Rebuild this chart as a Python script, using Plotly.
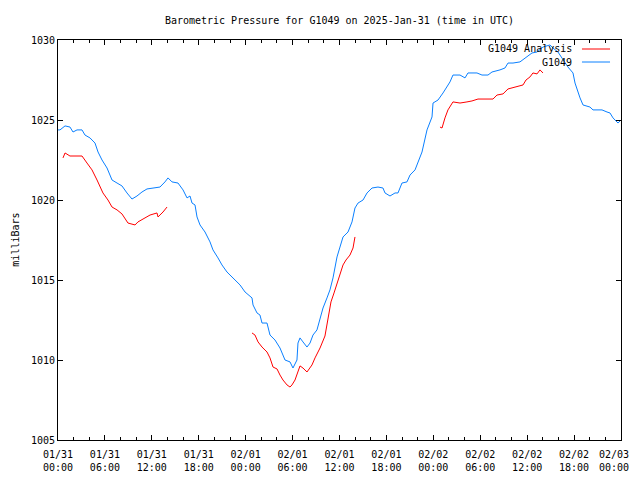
import plotly.graph_objects as go

# G1049 observed (hours since 2025-01-31 00:00 UTC, millibars)
obs_hours = [0.0, 0.26, 0.90, 1.53, 1.92, 2.43, 3.07, 3.45, 4.09, 4.73, 5.12, 5.63, 6.27, 6.91,
             7.55, 8.18, 8.82, 9.46, 10.10, 10.74, 11.38, 12.15, 13.04, 13.68, 14.07, 14.58,
             15.35, 15.99, 16.50, 16.88, 17.14, 17.52, 17.78, 18.16, 18.80, 19.44, 19.82, 20.46,
             20.97, 21.61, 22.25, 22.89, 23.28, 23.92, 24.81, 24.94, 25.45, 25.83, 26.09, 26.73,
             27.11, 27.75, 28.39, 29.03, 29.67, 30.05, 30.56, 30.69, 30.95, 31.33, 31.84, 32.23,
             32.61, 33.12, 33.51, 33.89, 34.40, 34.78, 35.17, 35.68, 36.06, 36.45, 37.09, 37.60,
             37.98, 38.37, 39.01, 39.52, 40.16, 40.92, 41.56, 41.82, 42.46, 43.10, 43.48, 43.99,
             44.63, 45.02, 45.66, 46.04, 46.55, 47.19, 47.83, 47.96, 48.60, 49.24, 50.13, 50.51,
             51.41, 52.05, 52.43, 53.58, 54.22, 54.99, 55.50, 56.52, 57.16, 57.55, 58.19, 59.08,
             59.72, 60.62, 61.26, 62.02, 62.92, 63.30, 63.94, 64.58, 65.22, 65.86, 66.12, 66.76,
             67.14, 68.03, 68.42, 69.06, 69.57, 70.21, 70.59, 70.98, 71.62, 72.0]
obs_mbar = [1024.38, 1024.38, 1024.63, 1024.56, 1024.25, 1024.38, 1024.38, 1024.06, 1023.88,
            1023.56, 1023.0, 1022.5, 1022.0, 1021.25, 1021.06, 1020.88, 1020.44, 1020.06,
            1020.25, 1020.5, 1020.69, 1020.75, 1020.81, 1021.13, 1021.38, 1021.13, 1021.06,
            1020.63, 1020.13, 1020.25, 1019.81, 1019.69, 1018.94, 1018.44, 1018.0, 1017.38,
            1016.88, 1016.38, 1015.94, 1015.5, 1015.19, 1014.94, 1014.69, 1014.25, 1013.88,
            1013.44, 1012.94, 1012.81, 1012.31, 1012.31, 1011.56, 1011.25, 1010.75, 1010.0,
            1009.88, 1009.5, 1010.0, 1011.06, 1011.38, 1011.13, 1010.81, 1011.06, 1011.56,
            1011.88, 1012.5, 1013.25, 1013.88, 1014.38, 1015.13, 1016.44, 1017.06, 1017.69,
            1018.0, 1018.63, 1019.5, 1019.81, 1020.0, 1020.44, 1020.75, 1020.81, 1020.75,
            1020.44, 1020.25, 1020.44, 1020.44, 1021.06, 1021.13, 1021.56, 1021.88, 1022.31,
            1023.0, 1024.38, 1025.19, 1026.06, 1026.25, 1026.69, 1027.38, 1027.81, 1027.81,
            1027.63, 1027.94, 1027.94, 1027.81, 1027.81, 1028.0, 1028.13, 1028.25, 1028.56,
            1028.56, 1028.63, 1028.88, 1029.19, 1029.25, 1029.56, 1029.69, 1029.5, 1029.25,
            1028.75, 1028.31, 1027.94, 1027.31, 1026.38, 1025.94, 1025.81, 1025.63, 1025.63,
            1025.63, 1025.5, 1025.44, 1025.13, 1024.81, 1025.0]

# G1049 Analysis (three segments, separated by gaps = None)
ana_hours = [0.64, 0.90, 1.53, 3.07, 3.71, 4.35, 4.99, 5.37, 5.75, 6.39, 6.91, 7.55, 8.18, 8.95,
             9.85, 10.23, 10.87, 11.77, 12.66, 12.79, 13.43, 13.94,
             None,
             24.81, 25.19, 25.58, 26.09, 26.73, 27.11, 27.50, 28.01, 28.39, 28.77, 29.29, 29.67,
             29.92, 30.31, 30.95, 31.33, 31.84, 32.48, 32.87, 33.51, 34.14, 34.53, 34.91, 35.30,
             35.68, 36.06, 36.45, 36.83, 37.34, 37.73, 37.98,
             None,
             48.85, 49.11, 49.49, 49.87, 50.51, 51.41, 52.30, 52.94, 53.71, 54.35, 55.63, 56.14,
             56.91, 57.55, 58.44, 59.47, 59.85, 60.36, 60.74, 61.26, 61.64, 62.02]
ana_mbar = [1022.63, 1022.94, 1022.75, 1022.75, 1022.31, 1021.88, 1021.25, 1020.81, 1020.44,
            1020.0, 1019.56, 1019.38, 1019.13, 1018.56, 1018.44, 1018.63, 1018.81, 1019.06,
            1019.19, 1018.94, 1019.25, 1019.56,
            None,
            1011.69, 1011.56, 1011.13, 1010.81, 1010.5, 1010.13, 1009.56, 1009.44, 1009.06,
            1008.75, 1008.44, 1008.31, 1008.44, 1008.75, 1009.63, 1009.5, 1009.25, 1009.69,
            1010.13, 1010.75, 1011.5, 1012.69, 1013.63, 1014.19, 1014.81, 1015.31, 1015.94,
            1016.25, 1016.56, 1017.0, 1017.69,
            None,
            1024.56, 1024.5, 1025.13, 1025.63, 1026.13, 1026.06, 1026.13, 1026.19, 1026.31,
            1026.31, 1026.31, 1026.56, 1026.63, 1026.94, 1027.06, 1027.19, 1027.5, 1027.69,
            1027.94, 1027.88, 1028.13, 1027.94]

tick_hours = [0, 6, 12, 18, 24, 30, 36, 42, 48, 54, 60, 66, 72]
tick_labels = ["01/31<br>00:00", "01/31<br>06:00", "01/31<br>12:00", "01/31<br>18:00",
               "02/01<br>00:00", "02/01<br>06:00", "02/01<br>12:00", "02/01<br>18:00",
               "02/02<br>00:00", "02/02<br>06:00", "02/02<br>12:00", "02/02<br>18:00",
               "02/03<br>00:00"]
y_ticks = [1005, 1010, 1015, 1020, 1025, 1030]

RED = "#ff0000"
BLUE = "#0a80ff"
FONT = "DejaVu Sans Mono"

fig = go.Figure()
fig.add_trace(go.Scatter(x=ana_hours, y=ana_mbar, mode="lines", name="G1049 Analysis",
                         line=dict(color=RED, width=1), connectgaps=False))
fig.add_trace(go.Scatter(x=obs_hours, y=obs_mbar, mode="lines", name="G1049",
                         line=dict(color=BLUE, width=1)))

axis_common = dict(showline=True, linecolor="black", linewidth=1, mirror="ticks",
                   ticks="inside", ticklen=5, tickcolor="black", showgrid=False,
                   zeroline=False, tickfont=dict(family=FONT, size=10, color="black"))

# the last tick label is drawn as an annotation nudged left so the window edge does not cut it
fig.update_xaxes(range=[0, 72], tickmode="array", tickvals=tick_hours,
                 ticktext=tick_labels[:-1] + [""], ticklabelstandoff=5,
                 minor=dict(ticks="inside", dtick=2, tick0=0, ticklen=3, tickcolor="black",
                            showgrid=False),
                 **axis_common)
fig.update_yaxes(range=[1005, 1030], tickmode="array", tickvals=y_ticks,
                 ticktext=[str(v) for v in y_ticks], **axis_common)

annotations = [dict(text=tick_labels[-1], xref="x", yref="paper", x=tick_hours[-1], y=0,
                    xanchor="right", yanchor="top", xshift=9, yshift=-8, borderpad=0,
                    showarrow=False, align="center",
                    font=dict(family=FONT, size=10, color="black"))]

# legend drawn gnuplot-style: text right-aligned, sample line to the right
legend_items = [("G1049 Analysis", RED, 0.9775), ("G1049", BLUE, 0.945)]
shapes = []
for label, color, yy in legend_items:
    annotations.append(dict(text=label, xref="paper", yref="paper", x=0.9165, y=yy,
                            xanchor="right", yanchor="middle", showarrow=False,
                            font=dict(family=FONT, size=10, color="black")))
    shapes.append(dict(type="line", xref="paper", yref="paper", x0=0.9307, x1=0.9805,
                       y0=yy, y1=yy, line=dict(color=color, width=1)))

annotations.append(dict(text="milliBars", xref="paper", yref="paper", x=-0.077, y=0.5,
                        textangle=-90, showarrow=False, xanchor="center", yanchor="middle",
                        font=dict(family=FONT, size=10, color="black")))

# the page body adds an 8px offset, so margins are shifted to keep the plot box in place
W, H = 632, 464
fig.update_layout(
    width=W, height=H,
    margin=dict(l=50, r=19, t=32, b=32, autoexpand=False),
    paper_bgcolor="white", plot_bgcolor="white",
    showlegend=False,
    title=dict(text="Barometric Pressure for G1049 on 2025-Jan-31 (time in UTC)",
               x=0.5, xref="paper", xanchor="center", y=1 - 12 / H, yref="container",
               yanchor="middle", font=dict(family=FONT, size=10, color="black")),
    annotations=annotations, shapes=shapes,
)

fig.write_html("out.html")
